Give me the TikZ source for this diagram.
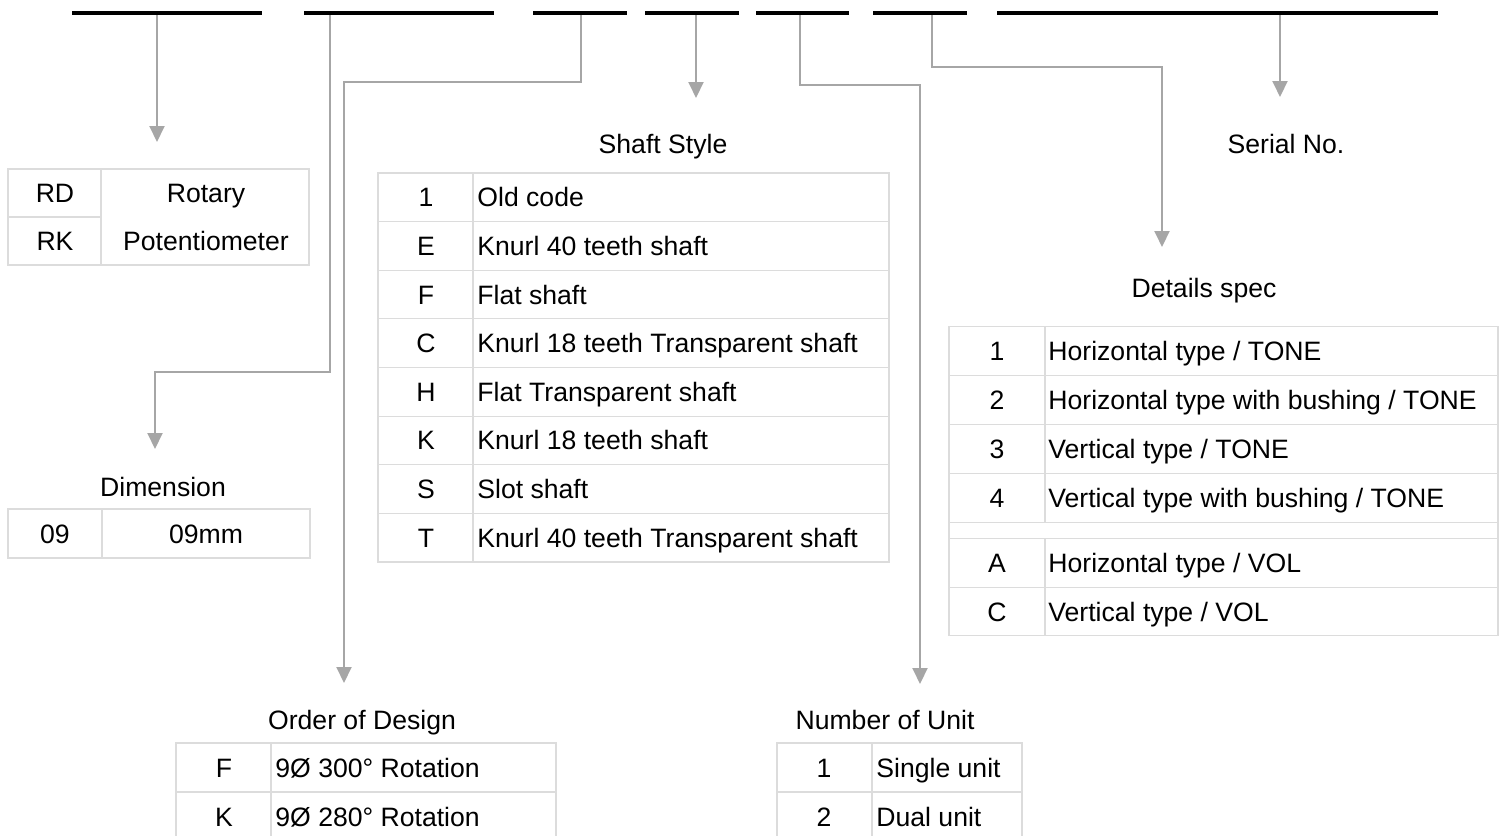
\documentclass[tikz,border=0pt]{standalone}
\usepackage{fontspec}
\setmainfont{Liberation Sans}
\usetikzlibrary{arrows.meta}
\definecolor{conn}{HTML}{A6A6A6}
\definecolor{gridc}{HTML}{DCDCDC}
\begin{document}
\begin{tikzpicture}[x=0.5pt,y=-0.5pt,
  bar/.style={line width=2pt,black},
  conn/.style={draw=conn,line width=1pt,-{Triangle[width=7.5pt,length=8pt]}},
  tbl/.style={draw=gridc,line width=0.6pt},
  txt/.style={inner sep=0pt,font=\fontsize{13.3}{15}\selectfont,anchor=base},
  ltxt/.style={txt,anchor=base west}]
\useasboundingbox (0,0) rectangle (1504,835);
\clip (0,0) rectangle (1504,835);
% top code bars
\draw[bar] (72,13) coordinate (b1w) -- (262,13) coordinate (b1e);
\draw[bar] (304,13) coordinate (b2w) -- (494,13) coordinate (b2e);
\draw[bar] (533,13) coordinate (b3w) -- (627,13) coordinate (b3e);
\draw[bar] (645,13) coordinate (b4w) -- (739,13) coordinate (b4e);
\draw[bar] (756,13) coordinate (b5w) -- (849,13) coordinate (b5e);
\draw[bar] (873,13) coordinate (b6w) -- (967,13) coordinate (b6e);
\draw[bar] (997,13) coordinate (b7w) -- (1438,13) coordinate (b7e);
% connector coordinates
\coordinate (s1) at (157,15);  \coordinate (t1) at (157,142);
\coordinate (s2) at (330,15);  \coordinate (t2) at (155,449);
\coordinate (s3) at (581,15);  \coordinate (t3) at (344,683);
\coordinate (s4) at (696,15);  \coordinate (t4) at (696,98);
\coordinate (s5) at (800,15);  \coordinate (t5) at (920,684);
\coordinate (s6) at (932,15);  \coordinate (t6) at (1162,247);
\coordinate (s7) at (1280,15); \coordinate (t7) at (1280,97);
\draw[conn] (s1) -- (t1);
\draw[conn] (s2) |- (155,372) -- (t2);
\draw[conn] (s3) |- (344,82) -- (t3);
\draw[conn] (s4) -- (t4);
\draw[conn] (s5) |- (920,85) -- (t5);
\draw[conn] (s6) |- (1162,67) -- (t6);
\draw[conn] (s7) -- (t7);
% titles
\node[txt] (tshaft) at (663,153.5) {Shaft Style};
\node[txt] (tserial) at (1286,153.5) {Serial No.};
\node[txt] (tdetails) at (1204,297.5) {Details spec};
\node[txt] (tdim) at (163,496.5) {Dimension};
\node[txt] (torder) at (362,729.5) {Order of Design};
\node[txt] (tunit) at (885,729.5) {Number of Unit};
% table 1: RD / RK
\draw[tbl] (8,169) rectangle (309,265);
\draw[tbl] (101,169) -- (101,265);
\draw[tbl] (8,217) -- (101,217);
\node[txt] (rd) at (55,202.5) {RD};
\node[txt] (rk) at (55,250.5) {RK};
\node[txt] (rotary) at (206,202.5) {Rotary};
\node[txt] (poten) at (206,250.5) {Potentiometer};
% dimension table
\draw[tbl] (8,509) rectangle (310,558);
\draw[tbl] (102,509) -- (102,558);
\node[txt] (d09) at (55,543) {09};
\node[txt] (d09mm) at (206,543) {09mm};
% shaft style table
\draw[tbl] (378,173) rectangle (889,562);
\draw[tbl] (473,173) -- (473,562);
\foreach \i in {1,...,7} {\draw[tbl] (378,173+48.625*\i) -- (889,173+48.625*\i);}
\foreach \c/\t/\n [count=\k from 0] in {1/{Old code}/sa,E/{Knurl 40 teeth shaft}/sb,F/{Flat shaft}/sc,C/{Knurl 18 teeth Transparent shaft}/sd,H/{Flat Transparent shaft}/se,K/{Knurl 18 teeth shaft}/sf,S/{Slot shaft}/sg,T/{Knurl 40 teeth Transparent shaft}/sh} {
  \node[txt] (\n c) at (426,{173+48.625*\k+24.3+9.5}) {\c};
  \node[ltxt] (\n t) at (477,{173+48.625*\k+24.3+9.5}) {\t};
}
% details spec table
\draw[tbl] (949,326.5) rectangle (1498,635.5);
\foreach \y in {375.5,424.5,473.5,522.5,538.5,587.5} {\draw[tbl] (949,\y) -- (1498,\y);}
\draw[tbl] (1045,326.5) -- (1045,522.5);
\draw[tbl] (1045,538.5) -- (1045,635.5);
\foreach \c/\t/\y/\n in {1/{Horizontal type / TONE}/351/da,2/{Horizontal type with bushing / TONE}/400/db,3/{Vertical type / TONE}/449/dc,4/{Vertical type with bushing / TONE}/498/dd,A/{Horizontal type / VOL}/563/de,C/{Vertical type / VOL}/612/df} {
  \node[txt] (\n c) at (997,\y+9.5) {\c};
  \node[ltxt] (\n t) at (1048,\y+9.5) {\t};
}
% order of design table
\draw[tbl] (176,743) rectangle (556,841);
\draw[tbl] (271,743) -- (271,841);
\draw[tbl] (176,792) -- (556,792);
\node[txt] (of) at (224,777) {F};
\node[ltxt] (oft) at (275,777) {9Ø 300° Rotation};
\node[txt] (ok) at (224,826) {K};
\node[ltxt] (okt) at (275,826) {9Ø 280° Rotation};
% number of unit table
\draw[tbl] (777,743) rectangle (1022,841);
\draw[tbl] (872,743) -- (872,841);
\draw[tbl] (777,792) -- (1022,792);
\node[txt] (u1) at (824,777) {1};
\node[ltxt] (u1t) at (876,777) {Single unit};
\node[txt] (u2) at (824,826) {2};
\node[ltxt] (u2t) at (876,826) {Dual unit};
\end{tikzpicture}
\end{document}
